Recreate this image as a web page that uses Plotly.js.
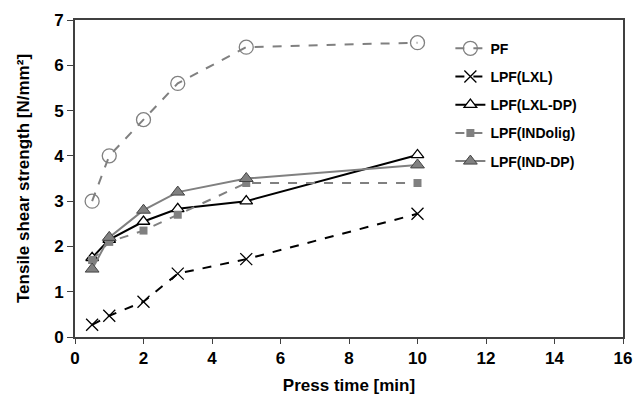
<!DOCTYPE html>
<html><head><meta charset="utf-8">
<script src="https://cdn.plot.ly/plotly-3.0.1.min.js"></script>
<style>body{margin:0;background:#fff}#c{width:633px;height:395px}</style>
</head><body><div id="c"></div>
<script>
const pressTime = [0.5, 1, 2, 3, 5, 10];
const seriesNames = ["PF", "LPF(LXL)", "LPF(LXL-DP)", "LPF(INDolig)", "LPF(IND-DP)"];
const PF = [3.0, 4.0, 4.8, 5.6, 6.4, 6.5];
const LPF_LXL = [0.27, 0.47, 0.78, 1.4, 1.72, 2.72];
const LPF_LXL_DP = [1.75, 2.15, 2.55, 2.83, 3.0, 4.02];
const LPF_INDolig = [1.7, 2.1, 2.35, 2.7, 3.4, 3.4];
const LPF_IND_DP = [1.5, 2.2, 2.8, 3.2, 3.5, 3.8];
const xTicks = [0, 2, 4, 6, 8, 10, 12, 14, 16];
const yTicks = [0, 1, 2, 3, 4, 5, 6, 7];

const gray = '#808080';
const traces = [
  {y: PF, name: seriesNames[0], line: {color: gray, width: 2, dash: 'dash'},
   marker: {symbol: 'circle-open', size: 14, color: gray, line: {width: 1.3}}},
  {y: LPF_LXL, name: seriesNames[1], line: {color: '#000', width: 2, dash: 'dash'},
   marker: {symbol: 'x-thin-open', size: 12, color: '#000', line: {width: 1.3, color: '#000'}}},
  {y: LPF_LXL_DP, name: seriesNames[2], line: {color: '#000', width: 2},
   marker: {symbol: 'triangle-up', size: 11, color: '#fff', line: {width: 1.3, color: '#000'}}},
  {y: LPF_INDolig, name: seriesNames[3], line: {color: gray, width: 2, dash: 'dash'},
   marker: {symbol: 'square', size: 8, color: gray}},
  {y: LPF_IND_DP, name: seriesNames[4], line: {color: gray, width: 2},
   marker: {symbol: 'triangle-up', size: 12, color: gray, line: {width: 1, color: '#444'}}}
].map((t, i) => Object.assign({x: pressTime, type: 'scatter', mode: 'lines+markers', legendgroup: 'g' + i}, t));

const layout = {
  width: 633, height: 395,
  margin: {l: 75, r: 10, t: 20, b: 58},
  paper_bgcolor: '#fff', plot_bgcolor: '#fff',
  font: {family: 'Liberation Sans, Arial, sans-serif', color: '#000'},
  showlegend: true,
  legend: {x: 0.685, y: 0.96, xanchor: 'left', yanchor: 'top', bgcolor: 'rgba(0,0,0,0)',
           font: {size: 14, family: 'Liberation Sans, Arial, sans-serif', weight: 'bold'},
           traceorder: 'grouped', tracegroupgap: 7},
  xaxis: {range: [0, 16], tickvals: xTicks, ticks: 'outside', ticklen: 5, tickcolor: '#404040',
          showline: true, linecolor: '#404040', linewidth: 2, mirror: true, showgrid: false, zeroline: false,
          tickfont: {size: 17, weight: 'bold'},
          title: {text: 'Press time [min]', font: {size: 17, weight: 'bold'}, standoff: 14}},
  yaxis: {range: [0, 7], tickvals: yTicks, ticks: 'outside', ticklen: 6, tickcolor: '#404040',
          showline: true, linecolor: '#404040', linewidth: 2, mirror: true, showgrid: false, zeroline: false,
          tickfont: {size: 17, weight: 'bold'},
          title: {text: 'Tensile shear strength [N/mm²]', font: {size: 17, weight: 'bold'}, standoff: 20}}
};
Plotly.newPlot('c', traces, layout, {displayModeBar: false, staticPlot: true});
</script></body></html>
